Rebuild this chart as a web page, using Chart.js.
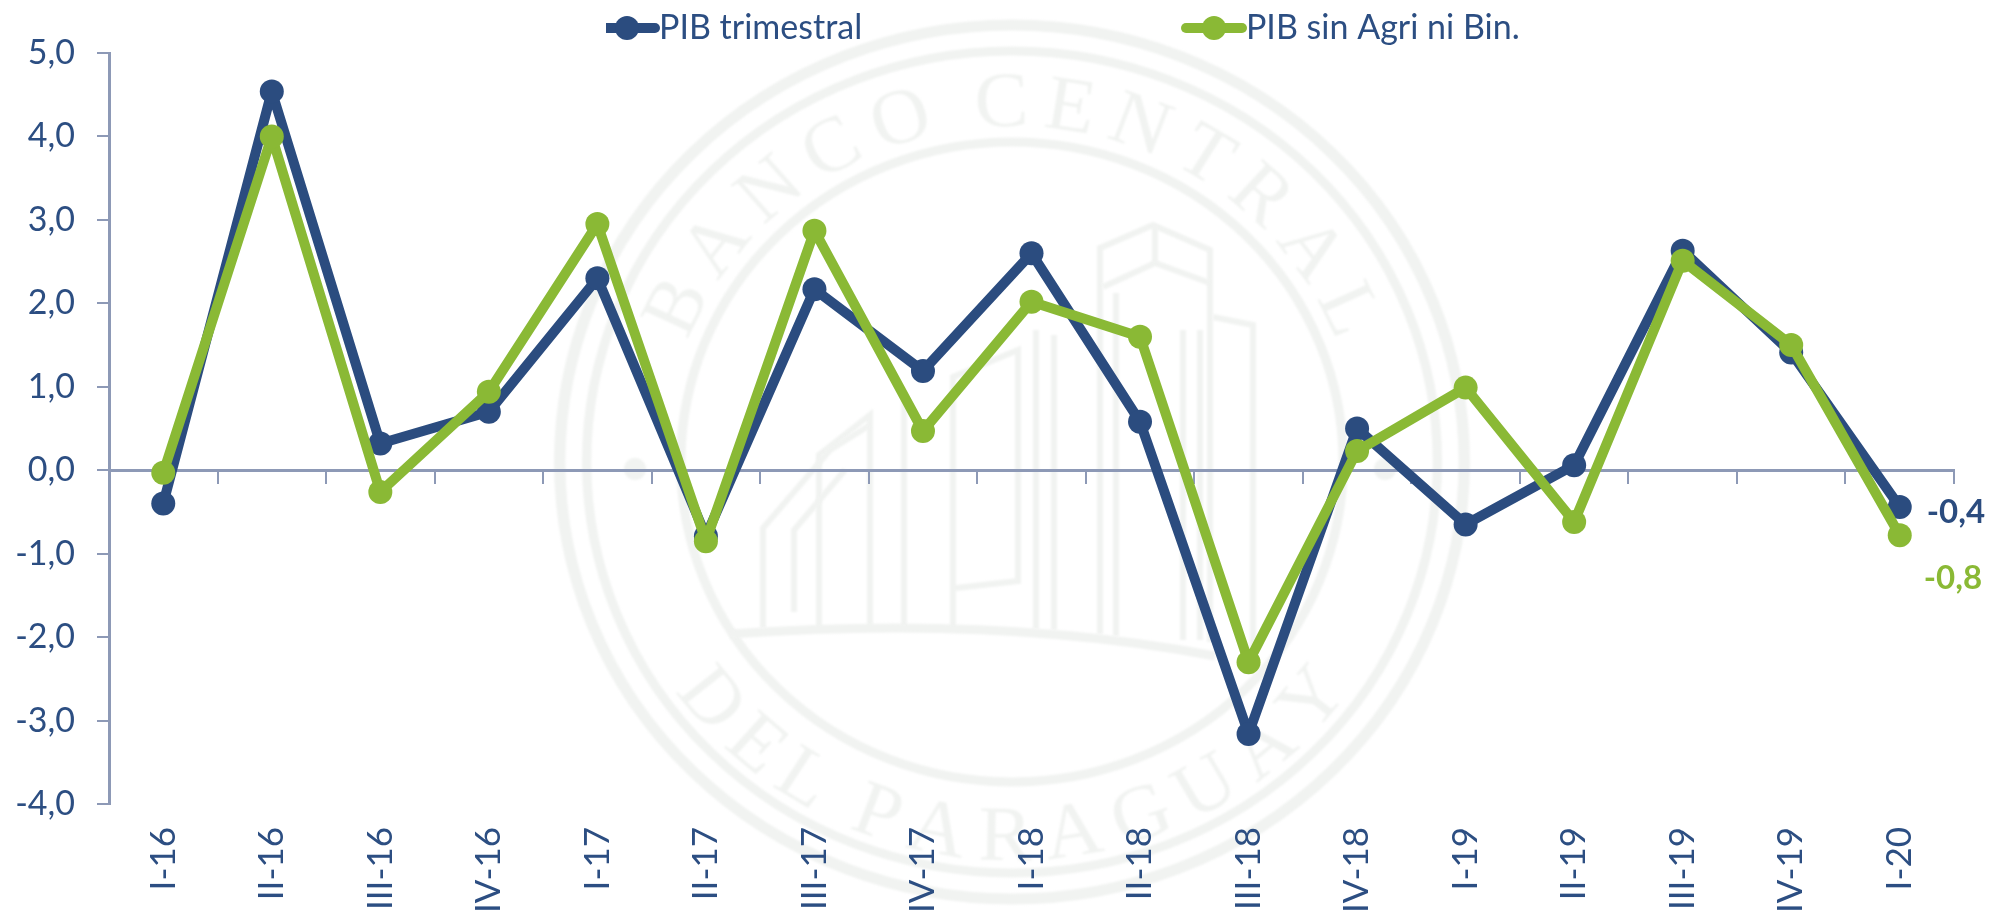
<!DOCTYPE html>
<html><head><meta charset="utf-8">
<style>html,body{margin:0;padding:0;background:#fff}#w{width:1992px;height:911px;position:relative}</style>
<script src="https://cdn.jsdelivr.net/npm/chart.js@4"></script>
</head><body><div id="w"><canvas id="c" width="1992" height="911"></canvas></div>
<script>
const categories = ["I-16","II-16","III-16","IV-16","I-17","II-17","III-17","IV-17","I-18","II-18","III-18","IV-18","I-19","II-19","III-19","IV-19","I-20"];
const pibTrimestral = [-0.40,4.54,0.32,0.70,2.30,-0.79,2.17,1.19,2.60,0.58,-3.16,0.50,-0.65,0.06,2.63,1.41,-0.44];
const pibSinAgriBin = [-0.03,4.00,-0.26,0.94,2.95,-0.85,2.87,0.47,2.02,1.60,-2.30,0.23,0.99,-0.62,2.51,1.50,-0.78];
const seriesNames = ["PIB trimestral","PIB sin Agri ni Bin."];
const BLUE = "#2b4c7f", GREEN = "#8ab935", AXIS = "#8d99b6", TXT = "#2c4e82", MARK = "#f1f3f1";
const FONT = "Lato, 'Open Sans', sans-serif";

function legendIcon(color){
  const c = document.createElement("canvas"); c.width = 68; c.height = 28;
  const g = c.getContext("2d");
  g.strokeStyle = color; g.lineWidth = 10; g.lineCap = "round";
  g.beginPath(); g.moveTo(6,14); g.lineTo(62,14); g.stroke();
  g.fillStyle = color; g.beginPath(); g.arc(34,14,12,0,Math.PI*2); g.fill();
  return c;
}
const fmt = v => v.toFixed(1).replace(".", ",");

function arcText(g, text, r, from, to){
  const chars = [...text], w = chars.map(ch => g.measureText(ch).width);
  const k = (to-from)/w.reduce((a,b)=>a+b,0); let a = from;
  chars.forEach((ch,i)=>{
    const mid = a + k*w[i]/2;
    g.save(); g.rotate(mid*Math.PI/180); g.translate(0,r); g.fillText(ch,0,0); g.restore();
    a += k*w[i];
  });
}
function poly(g, pts){ g.beginPath(); pts.forEach((p,i)=> i? g.lineTo(p[0],p[1]) : g.moveTo(p[0],p[1])); g.stroke(); }

const sealPlugin = { id:"seal", beforeDraw(chart){
  const g = chart.ctx, cx = 1012, cy = 462;
  g.save(); g.filter = "blur(1.2px)"; g.strokeStyle = MARK; g.fillStyle = MARK;
  g.save(); g.translate(cx,cy); g.scale(1.035,1);
  [[437,11],[411,9],[320,9]].forEach(([r,l])=>{ g.lineWidth=l; g.beginPath(); g.arc(0,0,r,0,Math.PI*2); g.stroke(); });
  g.font = "78px 'Liberation Serif', serif"; g.textAlign="center"; g.textBaseline="alphabetic";
  arcText(g,"BANCO CENTRAL",-336,-70,70);
  arcText(g,"DEL PARAGUAY",398,56,-56);
  g.restore();
  g.beginPath(); g.arc(635,469,11,0,Math.PI*2); g.arc(1385,469,11,0,Math.PI*2); g.fill();
  g.lineWidth = 6;
  poly(g,[[1100,634],[1100,248],[1153,225],[1210,250],[1210,642]]);
  poly(g,[[1103,287],[1155,263],[1210,283]]);
  poly(g,[[1155,225],[1155,263]]);
  poly(g,[[1116,636],[1116,293]]);
  poly(g,[[1213,317],[1253,325],[1253,650]]);
  poly(g,[[1183,330],[1183,640]]); poly(g,[[1200,330],[1200,640]]);
  poly(g,[[1036,629],[1036,330]]); poly(g,[[1054,630],[1054,335]]);
  poly(g,[[953,628],[953,377],[1018,350],[1018,581],[956,588]]);
  poly(g,[[904,628],[904,400]]); poly(g,[[870,628],[870,415],[819,455],[819,628]]);
  poly(g,[[763,628],[763,528],[830,450],[870,425]]);
  poly(g,[[794,612],[794,530],[845,470]]);
  g.lineWidth = 9; g.beginPath(); g.moveTo(730,634); g.quadraticCurveTo(1000,615,1215,656); g.stroke();
  g.restore();
}};

const endLabelPlugin = { id:"endLabels", afterDatasetsDraw(chart){
  const g = chart.ctx; g.save();
  g.font = "bold 33px "+FONT; g.textAlign="left"; g.textBaseline="middle";
  [[0,BLUE,27,5],[1,GREEN,24,43]].forEach(([i,col,dx,dy])=>{
    const ds = chart.data.datasets[i], pts = chart.getDatasetMeta(i).data, n = pts.length-1;
    g.fillStyle = col; g.fillText(fmt(ds.data[n]), pts[n].x+dx, pts[n].y+dy);
  });
  g.restore();
}};
const legendPlacePlugin = { id:"legendPlace", afterLayout(chart){
  const d = 606 - chart.legend.left; chart.legend.left += d; chart.legend.right += d;
  chart.legend.top += 2; chart.legend.bottom += 2;
}};

new Chart(document.getElementById("c"), {
  type:"line",
  data:{ labels:categories, datasets:[
    {label:seriesNames[0], data:pibTrimestral, borderColor:BLUE, backgroundColor:BLUE, borderWidth:10, borderJoinStyle:"round", pointRadius:12, pointBorderWidth:0, pointBackgroundColor:BLUE, tension:0, order:2, xAxisID:"x", yAxisID:"y", clip:false},
    {label:seriesNames[1], data:pibSinAgriBin, borderColor:GREEN, backgroundColor:GREEN, borderWidth:10, borderJoinStyle:"round", pointRadius:12, pointBorderWidth:0, pointBackgroundColor:GREEN, tension:0, order:1, xAxisID:"x", yAxisID:"y", clip:false}
  ]},
  options:{
    responsive:false, animation:false, devicePixelRatio:1,
    layout:{padding:{top:3,right:38,left:0,bottom:0}},
    plugins:{
      tooltip:{enabled:false},
      legend:{ position:"top", align:"start",
        labels:{ usePointStyle:true, pointStyleWidth:30, padding:6, color:TXT,
          font:{family:FONT,size:34,lineHeight:1},
          generateLabels(){ return [
            {text:seriesNames[0]+"\u00A0".repeat(38), pointStyle:legendIcon(BLUE), fontColor:TXT, lineWidth:0, datasetIndex:0},
            {text:seriesNames[1], pointStyle:legendIcon(GREEN), fontColor:TXT, lineWidth:0, datasetIndex:1}
          ]; }
        } }
    },
    scales:{
      x:{ type:"category", position:{y:0}, offset:true,
        border:{color:AXIS,width:3},
        grid:{display:true,drawOnChartArea:false,drawTicks:true,tickLength:12,color:AXIS,lineWidth:2,offset:true},
        ticks:{display:false} },
      x2:{ type:"category", axis:"x", position:"bottom", labels:categories, offset:true,
        border:{display:false}, grid:{display:false,drawTicks:false},
        ticks:{color:TXT,font:{family:FONT,size:35},minRotation:90,maxRotation:90,padding:23,autoSkip:false},
        afterFit(s){ s.height = 107; } },
      y:{ min:-4, max:5, position:"left",
        border:{color:AXIS,width:3},
        grid:{display:true,drawOnChartArea:false,tickLength:12,color:AXIS,lineWidth:2},
        ticks:{stepSize:1,color:TXT,font:{family:FONT,size:34},padding:22,callback:v=>fmt(v)},
        afterFit(s){ s.width = 109; } }
    }
  },
  plugins:[sealPlugin,endLabelPlugin,legendPlacePlugin]
});
</script></body></html>
